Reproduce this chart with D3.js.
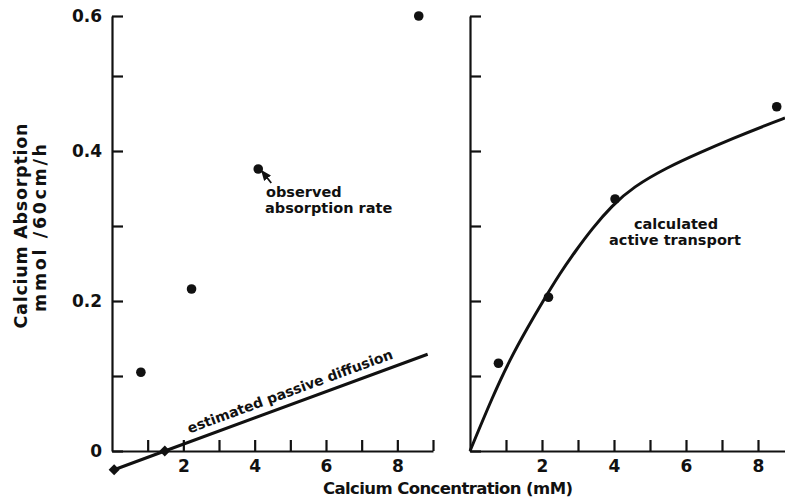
<!DOCTYPE html>
<html>
<head>
<meta charset="utf-8">
<script src="https://cdn.jsdelivr.net/npm/d3@7"></script>
<style>
  body { margin: 0; background: #fff; }
  text { font-family: "DejaVu Sans", sans-serif; font-weight: bold; fill: #111; }
</style>
</head>
<body>
<div id="chart"></div>
<script>
// valeurs
const concObserved = [0.81, 2.23, 4.1, 8.6];
const absorptionObserved = [0.105, 0.216, 0.376, 0.6];

const diffusionX = [0.06, 1.48, 8.85];
const diffusionY = [-0.025, 0, 0.129];

const concActive = [0.79, 2.18, 4.03, 8.52];
const absorptionActive = [0.117, 0.205, 0.336, 0.459];

const curveX = [0, 0.64, 1.11, 1.58, 2.03, 2.5, 2.92, 3.4, 3.94, 4.53, 5.47, 6.39, 7.31, 8.25, 8.75];
const curveY = [0, 0.074, 0.122, 0.163, 0.2, 0.237, 0.266, 0.297, 0.327, 0.352, 0.378, 0.398, 0.417, 0.435, 0.444];

const yTickValues = [0, 0.1, 0.2, 0.3, 0.4, 0.5, 0.6];
const yTickLabels = { 0: "0", 0.2: "0.2", 0.4: "0.4", 0.6: "0.6" };

const width = 785,
  height = 499;

const svg = d3
  .select("#chart")
  .append("svg")
  .attr("width", width)
  .attr("height", height);

// echelle y (l'axe d'origine n'est pas tout a fait regulier en haut)
const y = d3.scaleLinear().domain([0, 0.5, 0.6]).range([451, 76, 16]);
const xLeft = d3.scaleLinear().domain([0, 9]).range([112, 433]);
const xRight = d3.scaleLinear().domain([0, 8.75]).range([470, 785]);

function styleAxis(g) {
  g.selectAll(".domain, .tick line")
    .attr("stroke", "#111")
    .attr("stroke-width", 2.2);
  g.selectAll("text")
    .attr("fill", "#111")
    .style("font-family", "'DejaVu Sans', sans-serif")
    .style("font-weight", "bold")
    .style("font-size", "17px");
}

// axes x
svg
  .append("g")
  .attr("transform", `translate(0, ${y(0)})`)
  .call(
    d3.axisBottom(xLeft)
      .tickValues(d3.range(1, 10))
      .tickSizeInner(-11)
      .tickSizeOuter(0)
      .tickPadding(9)
      .tickFormat((d) => (d % 2 === 0 ? d : ""))
  )
  .call(styleAxis);

svg
  .append("g")
  .attr("transform", `translate(0, ${y(0)})`)
  .call(
    d3.axisBottom(xRight)
      .tickValues(d3.range(1, 9))
      .tickSizeInner(-11)
      .tickSizeOuter(0)
      .tickPadding(9)
      .tickFormat((d) => (d % 2 === 0 ? d : ""))
  )
  .call(styleAxis);

// axes y
svg
  .append("g")
  .attr("transform", `translate(${xLeft(0)}, 0)`)
  .call(
    d3.axisLeft(y)
      .tickValues(yTickValues)
      .tickSizeInner(-11)
      .tickSizeOuter(0)
      .tickPadding(10)
      .tickFormat((d) => yTickLabels[d] || "")
  )
  .call(styleAxis);

svg
  .append("g")
  .attr("transform", `translate(${xRight(0)}, 0)`)
  .call(
    d3.axisLeft(y)
      .tickValues(yTickValues)
      .tickSizeInner(-11)
      .tickSizeOuter(0)
      .tickFormat("")
  )
  .call(styleAxis);

// titres
svg
  .append("text")
  .attr("transform", `translate(27, 226) rotate(-90)`)
  .attr("text-anchor", "middle")
  .attr("textLength", 205)
  .attr("lengthAdjust", "spacing")
  .style("font-size", "17.5px")
  .text("Calcium Absorption");

svg
  .append("text")
  .attr("transform", `translate(46, 228) rotate(-90)`)
  .attr("text-anchor", "middle")
  .attr("textLength", 168)
  .attr("lengthAdjust", "spacing")
  .style("font-size", "17.5px")
  .text("mmol /60cm/h");

svg
  .append("text")
  .attr("x", 448)
  .attr("y", 494)
  .attr("text-anchor", "middle")
  .attr("textLength", 250)
  .attr("lengthAdjust", "spacing")
  .style("font-size", "16.5px")
  .text("Calcium Concentration (mM)");

// diffusion passive
const diffusion = diffusionX.map((d, i) => [d, diffusionY[i]]);
svg
  .append("path")
  .datum(diffusion)
  .attr("fill", "none")
  .attr("stroke", "#111")
  .attr("stroke-width", 3)
  .attr("d", d3.line().x((d) => xLeft(d[0])).y((d) => y(d[1])));

svg
  .selectAll(".diamond")
  .data(diffusion.slice(0, 2))
  .join("path")
  .attr("class", "diamond")
  .attr("d", d3.symbol(d3.symbolSquare, 60))
  .attr("transform", (d) => `translate(${xLeft(d[0])}, ${y(d[1])}) rotate(45)`)
  .attr("fill", "#111");

const p1 = diffusion[1],
  p2 = diffusion[2];
const angle =
  (Math.atan2(y(p2[1]) - y(p1[1]), xLeft(p2[0]) - xLeft(p1[0])) * 180) / Math.PI;
const tX = 2.25;
const tY = p1[1] + ((p2[1] - p1[1]) * (tX - p1[0])) / (p2[0] - p1[0]);
svg
  .append("text")
  .attr("transform", `translate(${xLeft(tX)}, ${y(tY)}) rotate(${angle})`)
  .attr("dy", -8)
  .style("font-size", "14px")
  .text("estimated passive diffusion");

// points observes
svg
  .selectAll(".obs")
  .data(concObserved)
  .join("circle")
  .attr("class", "obs")
  .attr("cx", (d) => xLeft(d))
  .attr("cy", (d, i) => y(absorptionObserved[i]))
  .attr("r", 4.8)
  .attr("fill", "#111");

// fleche vers le point observe
svg
  .append("defs")
  .append("marker")
  .attr("id", "head")
  .attr("viewBox", "0 0 10 10")
  .attr("refX", 5)
  .attr("refY", 5)
  .attr("markerWidth", 6)
  .attr("markerHeight", 6)
  .attr("orient", "auto")
  .append("path")
  .attr("d", "M0,1 L10,5 L0,9 Z")
  .attr("fill", "#111");

const obsDot = [xLeft(concObserved[2]), y(absorptionObserved[2])];
svg
  .append("line")
  .attr("x1", obsDot[0] + 13)
  .attr("y1", obsDot[1] + 14)
  .attr("x2", obsDot[0] + 6)
  .attr("y2", obsDot[1] + 5)
  .attr("stroke", "#111")
  .attr("stroke-width", 1.8)
  .attr("marker-end", "url(#head)");

svg
  .append("text")
  .attr("x", 266)
  .attr("y", 197)
  .style("font-size", "14.5px")
  .text("observed");

svg
  .append("text")
  .attr("x", 265)
  .attr("y", 213)
  .style("font-size", "14.5px")
  .text("absorption rate");

// transport actif calcule
const active = curveX.map((d, i) => [d, curveY[i]]);
svg
  .append("path")
  .datum(active)
  .attr("fill", "none")
  .attr("stroke", "#111")
  .attr("stroke-width", 3)
  .attr("d", d3.line().x((d) => xRight(d[0])).y((d) => y(d[1])).curve(d3.curveBasis));

svg
  .selectAll(".act")
  .data(concActive)
  .join("circle")
  .attr("class", "act")
  .attr("cx", (d) => xRight(d))
  .attr("cy", (d, i) => y(absorptionActive[i]))
  .attr("r", 4.8)
  .attr("fill", "#111");

svg
  .append("text")
  .attr("x", 676)
  .attr("y", 229)
  .attr("text-anchor", "middle")
  .style("font-size", "14.5px")
  .text("calculated");

svg
  .append("text")
  .attr("x", 675)
  .attr("y", 245)
  .attr("text-anchor", "middle")
  .style("font-size", "14.5px")
  .text("active transport");
</script>
</body>
</html>
